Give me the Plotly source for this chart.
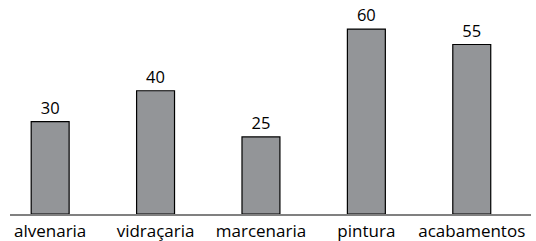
import plotly.graph_objects as go

categories = ["alvenaria", "vidraçaria", "marcenaria", "pintura", "acabamentos"]
values = [30, 40, 25, 60, 55]
value_labels = ["30", "40", "25", "60", "55"]

x_idx = list(range(len(categories)))

fig = go.Figure(go.Bar(
    x=x_idx,
    y=values,
    width=0.36,
    marker=dict(color="#939598", line=dict(color="#000000", width=1.2)),
    text=value_labels,
    textposition="outside",
    textfont=dict(family="Open Sans", size=16.5, color="#000000"),
    cliponaxis=False,
))

fig.update_layout(
    width=536, height=241,
    margin=dict(l=10, r=5, t=10, b=27),
    paper_bgcolor="white", plot_bgcolor="white",
    showlegend=False,
    xaxis=dict(
        range=[-0.381, 4.562],
        tickmode="array", tickvals=x_idx, ticktext=categories,
        showline=True, linecolor="#808080", linewidth=1.6,
        showgrid=False, zeroline=False, ticks="",
        automargin=False,
        ticklabelstandoff=1,
        tickfont=dict(family="Open Sans", size=17, color="#000000"),
    ),
    yaxis=dict(
        range=[0, 66.2], visible=False, showgrid=False, zeroline=False,
        automargin=False,
    ),
)

fig.write_html(
    "out.html",
    config={"displayModeBar": False},
    post_script="document.body.style.margin='0';document.body.style.overflow='hidden';",
)
